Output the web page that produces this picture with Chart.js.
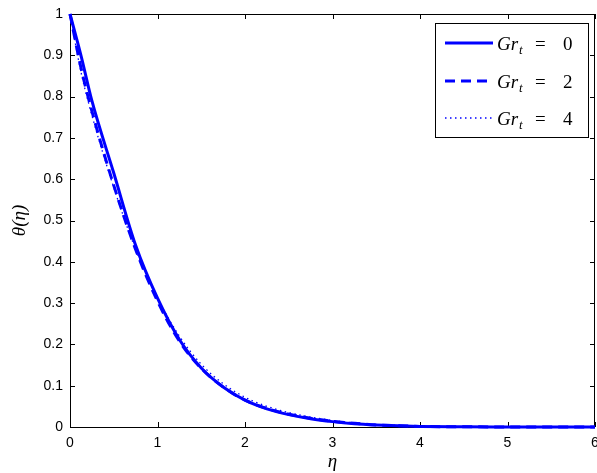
<!DOCTYPE html>
<html>
<head>
<meta charset="utf-8">
<script src="https://cdn.jsdelivr.net/npm/chart.js@4.4.0/dist/chart.umd.min.js"></script>
<style>
  body { margin: 0; background: #fff; }
  canvas { display: block; }
</style>
</head>
<body>
<canvas id="myChart" width="597" height="473"></canvas>
<script>
// eta values and theta(eta) for each Gr_t
var eta    = [0, 0.125, 0.25, 0.5, 0.75, 1, 1.25, 1.5, 1.75, 2, 2.25, 2.5, 2.75, 3, 3.25, 3.5, 3.75, 4, 4.5, 5, 6];
var theta0 = [1, 0.90, 0.79, 0.615, 0.44, 0.312, 0.212, 0.143, 0.097, 0.065, 0.044, 0.030, 0.020, 0.013, 0.008, 0.005, 0.003, 0.0015, 0.0005, 0.0002, 0];
var theta2 = [1, 0.87, 0.765, 0.585, 0.43, 0.305, 0.208, 0.142, 0.097, 0.065, 0.045, 0.031, 0.021, 0.014, 0.009, 0.005, 0.003, 0.0015, 0.0005, 0.0002, 0];
var theta4 = [1, 0.86, 0.755, 0.58, 0.43, 0.312, 0.22, 0.152, 0.105, 0.072, 0.050, 0.035, 0.024, 0.016, 0.010, 0.006, 0.004, 0.002, 0.0006, 0.0003, 0];

var grLabels = ['0', '2', '4'];
var xTicks = [0, 1, 2, 3, 4, 5, 6];
var xTickLabels = ['0', '1', '2', '3', '4', '5', '6'];
var yTicks = [0, 0.1, 0.2, 0.3, 0.4, 0.5, 0.6, 0.7, 0.8, 0.9, 1];
var yTickLabels = ['0', '0.1', '0.2', '0.3', '0.4', '0.5', '0.6', '0.7', '0.8', '0.9', '1'];

function pts(ys) {
  return eta.map(function (x, i) { return { x: x, y: ys[i] }; });
}

var blue = '#0000ff';
var styles = [
  { width: 3, dash: [] },
  { width: 3, dash: [10, 6] },
  { width: 1.3, dash: [1.5, 3.5] }
];

// box, inward ticks on all four sides
var frame = {
  id: 'frame',
  beforeDatasetsDraw: function (chart) {
    var c = chart.ctx, a = chart.chartArea;
    var sx = chart.scales.x, sy = chart.scales.y;
    c.save();
    c.strokeStyle = '#000';
    c.lineWidth = 1;
    c.strokeRect(a.left + 0.5, a.top + 0.5, a.right - a.left - 1, a.bottom - a.top);
    c.beginPath();
    xTicks.forEach(function (v) {
      var px = Math.round(sx.getPixelForValue(v)) + 0.5;
      c.moveTo(px, a.bottom); c.lineTo(px, a.bottom - 5);
      c.moveTo(px, a.top); c.lineTo(px, a.top + 5);
    });
    yTicks.forEach(function (v) {
      var py = Math.round(sy.getPixelForValue(v)) + 0.5;
      c.moveTo(a.left, py); c.lineTo(a.left + 5, py);
      c.moveTo(a.right, py); c.lineTo(a.right - 5, py);
    });
    c.stroke();
    c.restore();
  },
  afterDraw: function (chart) {
    var c = chart.ctx;
    var bx = 435, by = 23, bw = 153, bh = 114;
    c.save();
    c.fillStyle = '#fff';
    c.fillRect(bx, by, bw, bh);
    c.strokeStyle = '#000';
    c.lineWidth = 1;
    c.strokeRect(bx + 0.5, by + 0.5, bw, bh);
    var rows = [43, 81, 118];
    rows.forEach(function (ry, i) {
      c.strokeStyle = blue;
      c.lineWidth = styles[i].width;
      c.setLineDash(styles[i].dash);
      c.beginPath();
      c.moveTo(445, ry); c.lineTo(493, ry);
      c.stroke();
      c.setLineDash([]);
      c.fillStyle = '#000';
      c.textBaseline = 'alphabetic';
      c.textAlign = 'left';
      c.font = 'italic 19px "Liberation Serif"';
      c.fillText('Gr', 497, ry + 7);
      var w = c.measureText('Gr').width;
      c.font = 'italic 13px "Liberation Serif"';
      c.fillText('t', 497 + w + 1, ry + 11);
      c.font = '19px "Liberation Serif"';
      c.fillText('=', 535, ry + 7);
      c.fillText(grLabels[i], 563, ry + 7);
    });
    c.restore();
  }
};

var ctx = document.getElementById('myChart');

var myChart = new Chart(ctx, {
  type: 'line',
  data: {
    datasets: [0, 1, 2].map(function (i) {
      return {
        label: 'Gr_t = ' + grLabels[i],
        data: pts([theta0, theta2, theta4][i]),
        borderColor: blue,
        borderWidth: styles[i].width,
        borderDash: styles[i].dash,
        pointRadius: 0,
        fill: false,
        cubicInterpolationMode: 'monotone',
        clip: 4,
        order: 3 - i
      };
    })
  },
  plugins: [frame],
  options: {
    responsive: false,
    animation: false,
    devicePixelRatio: 1,
    layout: { padding: { left: 0, right: 2, top: 14, bottom: 0 } },
    plugins: {
      legend: { display: false },
      tooltip: { enabled: false }
    },
    scales: {
      x: {
        type: 'linear',
        min: 0,
        max: 6,
        grid: { display: false, drawTicks: false },
        border: { display: false },
        afterBuildTicks: function (s) { s.ticks = xTicks.map(function (v) { return { value: v }; }); },
        afterFit: function (s) {
          s.height = 46;
          s.paddingLeft = 0; s.paddingRight = 0;
        },
        ticks: {
          color: '#000',
          padding: 8,
          maxRotation: 0,
          autoSkip: false,
          font: { family: '"Liberation Sans"', size: 14 },
          callback: function (v, i) { return xTickLabels[i]; }
        },
        title: {
          display: true,
          text: 'η',
          color: '#000',
          padding: { top: 0, bottom: 0 },
          font: { family: '"Liberation Serif"', style: 'italic', size: 19 }
        }
      },
      y: {
        type: 'linear',
        min: 0,
        max: 1,
        grid: { display: false, drawTicks: false },
        border: { display: false },
        afterBuildTicks: function (s) { s.ticks = yTicks.map(function (v) { return { value: v }; }); },
        afterFit: function (s) {
          s.width = 70;
          s.paddingTop = 0; s.paddingBottom = 0;
        },
        ticks: {
          color: '#000',
          padding: 7,
          autoSkip: false,
          font: { family: '"Liberation Sans"', size: 14 },
          callback: function (v, i) { return yTickLabels[i]; }
        },
        title: {
          display: true,
          text: 'θ(η)',
          color: '#000',
          padding: { top: 9, bottom: 0 },
          font: { family: '"Liberation Serif"', style: 'italic', size: 19 }
        }
      }
    }
  }
});
</script>
</body>
</html>
